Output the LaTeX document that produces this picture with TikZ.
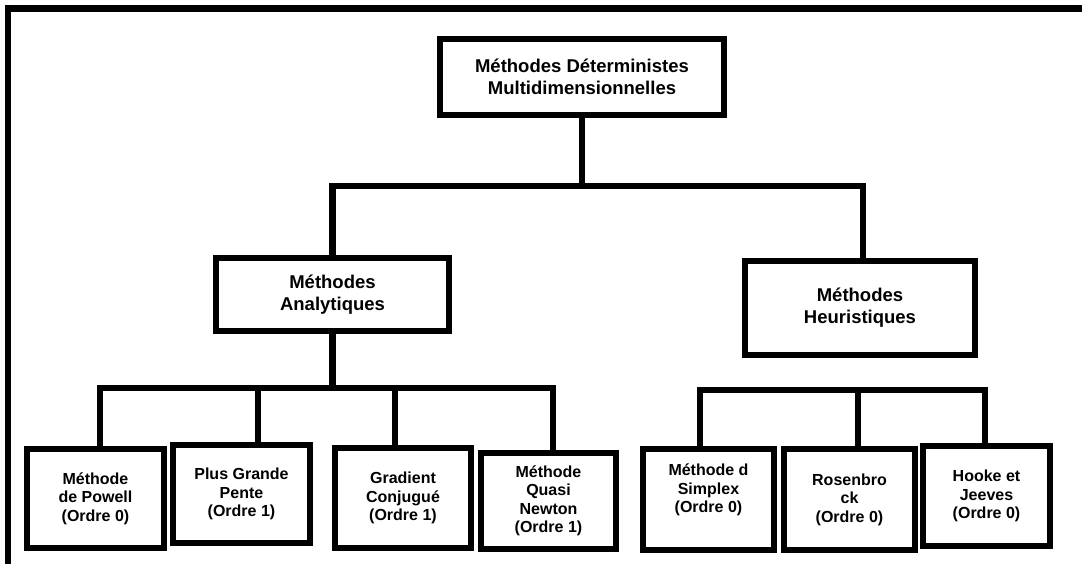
\documentclass[tikz,border=0pt]{standalone}
\usepackage{fontspec}
\setmainfont{Liberation Sans}
\begin{document}
\begin{tikzpicture}[x=1pt,y=-1pt,
  box/.style={draw, line width=6pt, rectangle, inner sep=0pt, align=center,
              font=\bfseries\fontsize{16}{18.5}\selectfont},
  bigbox/.style={box, font=\bfseries\fontsize{18.5}{22}\selectfont},
  link/.style={draw, line width=6.5pt, line join=miter, line cap=rect},
  frame/.style={draw, line width=6pt}]
\useasboundingbox (0,0) rectangle (1082,564);

% outer frame (top and left edges)
\coordinate (ftl) at (5,8.5);
\coordinate (ftr) at (1082,8.5);
\coordinate (fbl) at (7.5,564);
\draw[frame] (ftr) -- (ftl -| fbl) -- (fbl);
\draw[line width=7pt] (ftl) -- (ftr);

% top level
\node[bigbox, minimum width=284, minimum height=76] (top) at (582,77)
  {Méthodes Déterministes\\Multidimensionnelles};

% second level
\node[bigbox, minimum width=233, minimum height=73] (ana) at (332.5,294.5)
  {Méthodes\\Analytiques};
\node[bigbox, minimum width=230, minimum height=94] (hea) at (860,308)
  {Méthodes\\Heuristiques};

% third level, analytic methods
\node[box, minimum width=137, minimum height=99] (pow) at (95.5,498.5)
  {Méthode\\de Powell\\(Ordre 0)};
\node[box, minimum width=137, minimum height=98] (pgp) at (241.5,494)
  {Plus Grande\\Pente\\(Ordre 1)};
\node[box, minimum width=136, minimum height=100] (grc) at (403,498)
  {Gradient\\Conjugué\\(Ordre 1)};
\node[box, minimum width=135, minimum height=96] (qn) at (548.5,501)
  {Méthode\\Quasi\\Newton\\(Ordre 1)};

% third level, heuristic methods
\node[box, minimum width=131, minimum height=101] (spx) at (708.5,499.5)
  {Méthode d\\Simplex\\(Ordre 0)\\[4pt]};
\node[box, minimum width=131, minimum height=101] (ros) at (849.5,499.5)
  {Rosenbro\\ck\\(Ordre 0)};
\node[box, minimum width=127, minimum height=100] (hj) at (986.5,496)
  {Hooke et\\Jeeves\\(Ordre 0)};

% bus levels
\coordinate (bus1) at (0,186);
\coordinate (bus2) at (0,388);
\coordinate (bus3) at (0,390);

% connectors
\draw[link] (top.south) -- (top.south |- bus1);
\draw[link] (ana.north) |- ([xshift=3pt]hea.north |- bus1)
  -- ([xshift=3pt]hea.north);

\draw[link] (ana.south) -- (ana.south |- bus2);
\draw[link] ([xshift=4.5pt]pow.north) |- ([xshift=4.5pt]qn.north |- bus2)
  -- ([xshift=4.5pt]qn.north);
\draw[link] ([xshift=16.5pt]pgp.north |- bus2) -- ([xshift=16.5pt]pgp.north);
\draw[link] ([xshift=-8pt]grc.north |- bus2) -- ([xshift=-8pt]grc.north);

\draw[link] ([xshift=-8.5pt]spx.north) |- ([xshift=-1.5pt]hj.north |- bus3)
  -- ([xshift=-1.5pt]hj.north);
\draw[link] ([xshift=8.5pt]ros.north |- bus3) -- ([xshift=8.5pt]ros.north);
\end{tikzpicture}
\end{document}
